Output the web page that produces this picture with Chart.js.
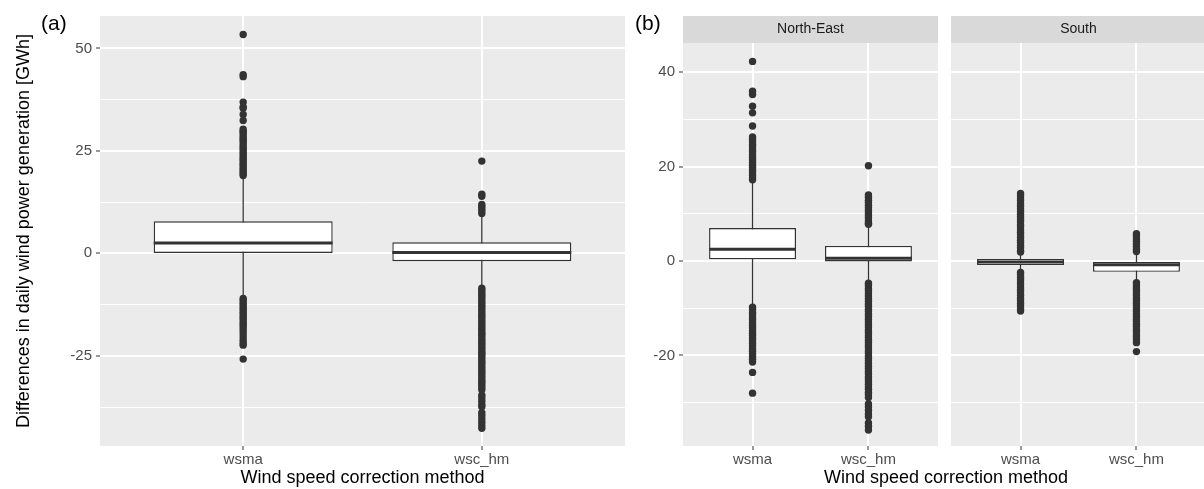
<!DOCTYPE html>
<html>
<head>
<meta charset="utf-8">
<script src="https://cdn.jsdelivr.net/npm/chart.js@4.4.1/dist/chart.umd.min.js"></script>
<style>
  html, body { margin: 0; padding: 0; background: #fff; overflow: hidden; }
  #wrap { position: relative; width: 1210px; height: 489px; font-family: "Liberation Sans", Arial, sans-serif; }
  #wrap canvas { position: absolute; top: 0; }
  .tag { position: absolute; top: 12px; font-size: 21px; line-height: 21px; color: #000; }
  .xtitle { position: absolute; top: 468px; left: 683px; width: 526px; text-align: center; font-size: 18px; line-height: 18px; color: #000; }
</style>
</head>
<body>
<div id="wrap">
  <canvas id="panelA" width="630" height="489" style="left:0"></canvas>
  <canvas id="panelNE" width="312" height="489" style="left:630px"></canvas>
  <canvas id="panelS" width="268" height="489" style="left:942px"></canvas>
  <div class="tag" style="left:41px">(a)</div>
  <div class="tag" style="left:635px">(b)</div>
  <div class="xtitle">Wind speed correction method</div>
</div>
<script>
const methods = ['wsma', 'wsc_hm'];

// [lower whisker, Q1, median, Q3, upper whisker] per method
const statsAll = [[-10.9, 0.1, 2.5, 7.8, 18.8], [-8.2, -1.9, 0.2, 2.7, 9.3]];
const statsNorthEast = [[-9.4, 0.35, 2.5, 7.0, 16.9], [-4.4, -0.1, 0.6, 3.2, 7.6]];
const statsSouth = [[-2.0, -0.85, -0.2, 0.45, 1.6], [-4.3, -2.3, -0.8, -0.2, 1.6]];

// outliers, panel (a)
const outAllWsma = [53.4, 43.6, 43.1, 36.9, 35.7, 35.4, 33.9, 32.4, 30.3, 29.8, 29.4, 28.9, 28.3, 27.8, 27.4,
  26.8, 26.2, 25.7, 25.2, 24.6, 24.1, 23.5, 23.0, 22.6, 22.0, 21.5, 20.9, 20.4, 19.9, 19.4, 19.0,
  -11.0, -11.5, -12.1, -12.6, -13.2, -13.7, -14.3, -14.8, -15.4, -15.9, -16.5, -17.1, -17.6, -18.2,
  -18.9, -19.6, -20.4, -21.2, -21.9, -22.4, -25.8];
const outAllWscHm = [22.5, 14.4, 13.9, 11.9, 11.4, 10.8, 10.3, 9.7,
  -8.5, -9.1, -9.7, -10.2, -10.8, -11.4, -12.0, -12.6, -13.1, -13.7, -14.3, -14.9, -15.4, -16.0, -16.6,
  -17.2, -17.7, -18.3, -18.9, -19.5, -20.0, -20.6, -21.2, -21.8, -22.3, -22.9, -23.5, -24.1, -24.6,
  -25.2, -25.8, -26.4, -26.9, -27.5, -28.1, -28.7, -29.2, -29.8, -30.4, -31.0, -31.5, -32.1, -32.7,
  -33.3, -34.6, -35.3, -36.1, -36.9, -37.4, -38.9, -39.6, -40.4, -41.2, -42.0, -42.7];

// outliers, panel (b) North-East
const outNeWsma = [42.3, 36.0, 35.3, 32.8, 31.4, 28.6, 26.3, 25.8, 25.3, 24.7, 24.2, 23.6, 23.1, 22.5,
  22.0, 21.4, 20.9, 20.3, 19.8, 19.2, 18.7, 18.1, 17.6, 17.2,
  -9.8, -10.3, -10.9, -11.4, -12.0, -12.5, -13.1, -13.6, -14.2, -14.7, -15.3, -15.8, -16.4, -16.9,
  -17.5, -18.0, -18.6, -19.1, -19.7, -20.3, -20.8, -21.4, -23.6, -28.0];
const outNeWscHm = [20.2, 14.0, 13.5, 12.9, 12.4, 11.8, 11.3, 10.7, 10.2, 9.6, 9.1, 8.5, 8.0, 7.8,
  -4.7, -5.2, -5.8, -6.3, -6.9, -7.4, -8.0, -8.5, -9.1, -9.6, -10.2, -10.7, -11.3, -11.8, -12.4,
  -12.9, -13.5, -14.0, -14.6, -15.1, -15.7, -16.2, -16.8, -17.3, -17.9, -18.4, -19.0, -19.5, -20.1,
  -20.6, -21.2, -21.7, -22.3, -22.8, -23.4, -23.9, -24.5, -25.0, -25.6, -26.1, -26.7, -27.2, -27.8,
  -28.3, -28.9, -30.3, -30.9, -31.6, -32.4, -33.0, -34.3, -35.0, -35.8];

// outliers, panel (b) South
const outSWsma = [14.3, 13.8, 13.2, 12.7, 12.1, 11.6, 11.0, 10.5, 9.9, 9.4, 8.8, 8.3, 7.7, 7.2, 6.6,
  6.1, 5.5, 5.0, 4.4, 3.9, 3.3, 2.8, 2.2, 1.9,
  -2.4, -2.9, -3.5, -4.0, -4.6, -5.1, -5.7, -6.2, -6.8, -7.3, -7.9, -8.4, -9.0, -9.5, -10.1, -10.6];
const outSWscHm = [5.8, 5.3, 4.7, 4.2, 3.6, 3.1, 2.5, 2.0,
  -4.6, -5.1, -5.7, -6.2, -6.8, -7.3, -7.9, -8.4, -9.0, -9.5, -10.1, -10.6, -11.2, -11.7, -12.3,
  -12.8, -13.4, -13.9, -14.5, -15.0, -15.6, -16.1, -16.7, -17.3, -19.2];

const yTicksA = [-25, 0, 25, 50];
const yTicksB = [-20, 0, 20, 40];

const FONT = '"Liberation Sans", Arial, sans-serif';
const INK = '#333333';
const TICK_TEXT = '#4D4D4D';

Chart.defaults.font.family = FONT;

const panelBg = {
  id: 'panelBg',
  beforeDraw(chart, _args, opts) {
    const { ctx, chartArea } = chart;
    const { left, top, right, bottom } = chartArea;
    ctx.save();
    ctx.fillStyle = '#EBEBEB';
    ctx.fillRect(left, top, right - left, bottom - top);
    if (opts.strip) {
      const h = opts.stripHeight;
      ctx.fillStyle = '#D9D9D9';
      ctx.fillRect(left, top - h, right - left, h);
      ctx.fillStyle = '#1A1A1A';
      ctx.font = `14px ${FONT}`;
      ctx.textAlign = 'center';
      ctx.textBaseline = 'middle';
      ctx.fillText(opts.strip, (left + right) / 2, top - h / 2);
    }
    ctx.restore();
  },
};

const boxDatasets = (stats, outliers) => {
  const half = 0.375;
  const sets = [];
  stats.forEach((s, i) => {
    sets.push({
      type: 'line',
      data: [{ x: i + 1, y: s[0] }, { x: i + 1, y: s[4] }],
      borderColor: INK,
      borderWidth: 1.3,
      pointRadius: 0,
      order: 3,
    });
    sets.push({
      type: 'line',
      data: [{ x: i + 1 - half, y: s[2] }, { x: i + 1 + half, y: s[2] }],
      borderColor: INK,
      borderWidth: 3,
      borderCapStyle: 'butt',
      pointRadius: 0,
      order: 1,
    });
  });
  sets.push({
    type: 'bar',
    data: stats.map((s, i) => ({ x: i + 1, y: [s[1], s[3]] })),
    backgroundColor: '#ffffff',
    borderColor: INK,
    borderWidth: 1.4,
    borderSkipped: false,
    barPercentage: 0.75,
    categoryPercentage: 1,
    order: 2,
  });
  sets.push({
    type: 'line',
    showLine: false,
    data: outliers.flatMap((vals, i) => vals.map((v) => ({ x: i + 1, y: v }))),
    pointRadius: 3.7,
    pointBackgroundColor: INK,
    pointBorderWidth: 0,
    order: 0,
  });
  return sets;
};

const yScale = ({ min, max, majors, width, labels, title }) => {
  const step = majors[1] - majors[0];
  const minors = [majors[0] - step / 2, ...majors.map((m) => m + step / 2)]
    .filter((v) => v >= min && v <= max);
  const isMajor = (v) => majors.includes(v);
  return {
    type: 'linear',
    min,
    max,
    afterBuildTicks: (scale) => {
      scale.ticks = [...majors, ...minors].sort((a, b) => a - b).map((value) => ({ value }));
    },
    afterFit: (scale) => { scale.width = width; },
    border: { display: false },
    grid: {
      color: '#ffffff',
      lineWidth: (ctx) => (isMajor(ctx.tick.value) ? 2 : 1),
      drawTicks: labels,
      tickLength: 4,
      tickWidth: 1,
      tickColor: (ctx) => (isMajor(ctx.tick.value) ? INK : 'rgba(0,0,0,0)'),
    },
    ticks: {
      display: labels,
      autoSkip: false,
      color: TICK_TEXT,
      font: { size: 15 },
      padding: 4,
      callback: (value) => (isMajor(value) ? String(value) : ''),
    },
    title: title
      ? { display: true, text: title, color: '#000', font: { size: 18 }, padding: { top: 13, bottom: 0 } }
      : { display: false },
  };
};

const xScale = (title) => ({
  type: 'linear',
  min: 0.4,
  max: 2.6,
  offset: false,
  afterBuildTicks: (scale) => {
    scale.ticks = methods.map((_m, i) => ({ value: i + 1 }));
  },
  afterFit: (scale) => { scale.height = 43; },
  border: { display: false },
  grid: {
    offset: false,
    color: '#ffffff',
    lineWidth: 2,
    tickLength: 4,
    tickWidth: 1,
    tickColor: INK,
  },
  ticks: {
    autoSkip: false,
    maxRotation: 0,
    color: TICK_TEXT,
    font: { size: 15 },
    padding: 1,
    callback: (value) => methods[value - 1],
  },
  title: title
    ? { display: true, text: title, color: '#000', font: { size: 18 }, padding: { top: 0, bottom: 0 } }
    : { display: false },
});

const makePanel = (id, { stats, outliers, y, xTitle, padding, strip }) => new Chart(
  document.getElementById(id),
  {
    type: 'bar',
    data: { datasets: boxDatasets(stats, outliers) },
    options: {
      responsive: false,
      animation: false,
      devicePixelRatio: 1,
      events: [],
      layout: { padding },
      scales: { x: xScale(xTitle), y: yScale(y) },
      plugins: {
        legend: { display: false },
        tooltip: { enabled: false },
        panelBg: { strip, stripHeight: 27 },
      },
    },
    plugins: [panelBg],
  },
);

makePanel('panelA', {
  stats: statsAll,
  outliers: [outAllWsma, outAllWscHm],
  y: {
    min: -47, max: 57.9, majors: yTicksA, width: 100, labels: true,
    title: 'Differences in daily wind power generation [GWh]',
  },
  xTitle: 'Wind speed correction method',
  padding: { top: 16, right: 5, bottom: 0, left: 0 },
});

makePanel('panelNE', {
  stats: statsNorthEast,
  outliers: [outNeWsma, outNeWscHm],
  y: { min: -39.2, max: 46.2, majors: yTicksB, width: 53, labels: true },
  padding: { top: 43, right: 0, bottom: 0, left: 0 },
  strip: 'North-East',
});

makePanel('panelS', {
  stats: statsSouth,
  outliers: [outSWsma, outSWscHm],
  y: { min: -39.2, max: 46.2, majors: yTicksB, width: 0, labels: false },
  padding: { top: 43, right: 1, bottom: 0, left: 9 },
  strip: 'South',
});
</script>
</body>
</html>
